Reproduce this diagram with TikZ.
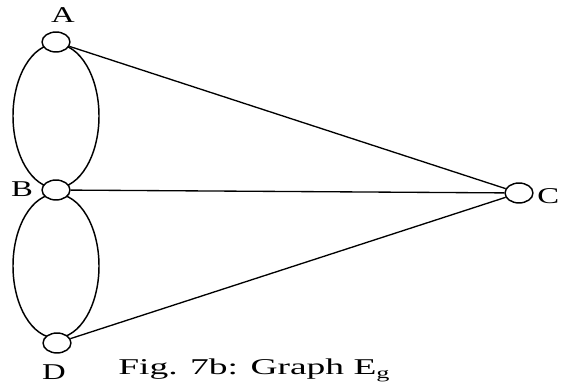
\documentclass[tikz,border=0pt]{standalone}
\usepackage{fontspec}
\usepackage{graphicx}
\setmainfont{Liberation Serif}
\usetikzlibrary{shapes.geometric}
\newcommand{\widetxt}[1]{\scalebox{1.45}[1]{#1}}

\begin{document}
\begin{tikzpicture}[x=0.02646cm,y=-0.02646cm,
    vertex/.style={draw,ellipse,fill=white,line width=1.1pt,inner sep=0pt,minimum width=21pt,minimum height=15pt},
    vlabel/.style={font=\fontsize{17}{20}\selectfont},
    edge/.style={line width=1pt}]
  \useasboundingbox (0,0) rectangle (561,385);
  % the two loops between A-B and B-D
  \draw[line width=1.1pt] (56,116) ellipse [x radius=43, y radius=72];
  \draw[line width=1.1pt] (56,266) ellipse [x radius=43, y radius=72];
  \node[vertex] (A) at (56,42) {};
  \node[vertex] (B) at (56,190) {};
  \node[vertex] (C) at (519,193) {};
  \node[vertex] (D) at (57,343) {};
  \node[vlabel] (lA) at (63,15) {\widetxt{A}};
  \node[vlabel] (lB) at (22,189) {\widetxt{B}};
  \node[vlabel,anchor=west,inner sep=0pt] (lC) at (537,196) {\widetxt{C}};
  \node[vlabel] (lD) at (54,372) {\widetxt{D}};
  \draw[edge] (A) -- (C);
  \draw[edge] (B) -- (C);
  \draw[edge] (D) -- (C);
  \node[vlabel,anchor=base west,inner sep=0pt] (cap) at (118,375)
    {\scalebox{1.66}[1]{Fig. 7b: Graph E\textsubscript{g}}};
\end{tikzpicture}
\end{document}
